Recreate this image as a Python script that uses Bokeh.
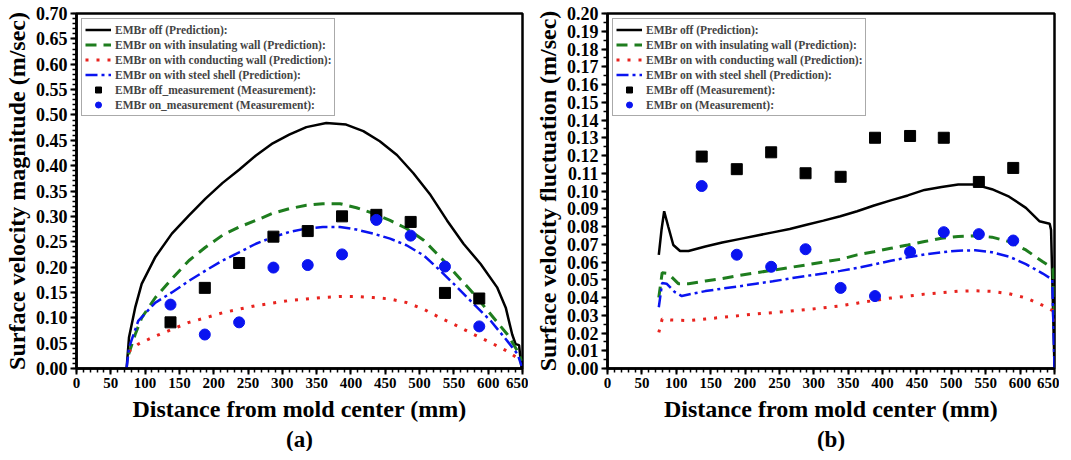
from bokeh.plotting import figure
from bokeh.layouts import row
from bokeh.models import FixedTicker, PrintfTickFormatter, Legend, LegendItem, Title, Range1d
from bokeh.embed import file_html
from bokeh.resources import INLINE

# ---------------- Panel (a): surface velocity magnitude ----------------
a_off_x = [73, 76.5, 85.5, 95, 115, 139, 164, 188, 213, 237, 261.5, 286, 310, 335, 364, 393,
           418, 442, 467, 491, 516, 540, 564, 589, 613, 625.6, 635, 640, 645, 648.6]
a_off_y = [0.0, 0.061, 0.12, 0.167, 0.22, 0.266, 0.302, 0.335, 0.366, 0.392, 0.42, 0.444, 0.461,
           0.476, 0.484, 0.481, 0.468, 0.448, 0.421, 0.385, 0.342, 0.292, 0.246, 0.206, 0.160,
           0.12, 0.067, 0.048, 0.046, 0.0]

a_ins_x = [76, 85.5, 95, 115, 139, 164, 188, 213, 237, 261.5, 286, 310, 335, 359, 384, 408,
           432.5, 457, 481, 506, 530, 555, 579, 603.6, 628, 643, 648.6]
a_ins_y = [0.028, 0.067, 0.10, 0.14, 0.177, 0.213, 0.239, 0.263, 0.279, 0.292, 0.306, 0.315,
           0.322, 0.325, 0.325, 0.317, 0.306, 0.292, 0.276, 0.253, 0.22, 0.183, 0.147, 0.107,
           0.067, 0.034, 0.015]

a_con_x = [76, 90, 115, 139, 164, 188, 213, 237, 261.5, 286, 310, 335, 359, 384, 408, 432.5,
           457, 481, 506, 530, 555, 579, 603.6, 628, 643]
a_con_y = [0.033, 0.048, 0.064, 0.077, 0.091, 0.10, 0.11, 0.117, 0.124, 0.129, 0.134, 0.137,
           0.14, 0.142, 0.142, 0.14, 0.137, 0.13, 0.117, 0.10, 0.084, 0.067, 0.051, 0.034, 0.02]

a_stl_x = [73, 76.5, 90, 115, 139, 164, 188, 213, 237, 261.5, 286, 310, 335, 359, 384, 408,
           432.5, 457, 481, 506, 530, 555, 579, 603.6, 628, 643, 648.6]
a_stl_y = [0.0, 0.041, 0.094, 0.13, 0.15, 0.173, 0.193, 0.213, 0.229, 0.246, 0.259, 0.269,
           0.276, 0.279, 0.279, 0.274, 0.266, 0.256, 0.243, 0.223, 0.193, 0.16, 0.127, 0.094,
           0.054, 0.028, 0.005]

meas_x = [137, 187, 237, 287, 337, 387, 437, 487, 537, 587]
a_meas_off = [0.091, 0.159, 0.208, 0.26, 0.271, 0.30, 0.303, 0.289, 0.149, 0.138]
a_meas_on = [0.126, 0.067, 0.091, 0.199, 0.204, 0.225, 0.293, 0.262, 0.201, 0.083]

# ---------------- Panel (b): surface velocity fluctuation ----------------
b_off_x = [74.6, 78.5, 82.4, 88.3, 95.7, 105.5, 117.8, 142.3, 166.8, 191.4, 215.9, 240.4, 265,
           289.5, 314, 338.6, 363, 387.6, 412, 436.7, 461, 485.8, 510, 534.8, 559, 584, 608.4,
           628, 643, 645, 650]
b_off_y = [0.064, 0.078, 0.0886, 0.080, 0.0696, 0.0662, 0.0662, 0.0687, 0.071, 0.0729, 0.0748,
           0.0767, 0.0786, 0.081, 0.0833, 0.0858, 0.0886, 0.0918, 0.0947, 0.0975, 0.1006,
           0.1023, 0.1036, 0.1036, 0.101, 0.0968, 0.0905, 0.083, 0.0816, 0.078, 0.0]

b_ins_x = [74.6, 79.5, 88.3, 103, 117.8, 142.3, 166.8, 191.4, 215.9, 240.4, 265, 289.5, 314,
           338.6, 363, 387.6, 412, 436.7, 461, 485.8, 510, 534.8, 559, 584, 608.4, 633, 647.7, 650]
b_ins_y = [0.040, 0.0539, 0.0535, 0.0478, 0.0478, 0.0493, 0.0507, 0.0524, 0.0539, 0.0554,
           0.0569, 0.0584, 0.06, 0.0615, 0.064, 0.0658, 0.0677, 0.0696, 0.0715, 0.0734, 0.0744,
           0.0748, 0.074, 0.0715, 0.0668, 0.0601, 0.0564, 0.027]

b_con_x = [74.6, 79.5, 93, 117.8, 142.3, 166.8, 191.4, 215.9, 240.4, 265, 289.5, 314, 338.6,
           363, 387.6, 412, 436.7, 461, 485.8, 510, 534.8, 559, 584, 608.4, 633, 647.7, 650]
b_con_y = [0.0203, 0.0279, 0.0273, 0.027, 0.0279, 0.0288, 0.0298, 0.0307, 0.0315, 0.0323,
           0.0332, 0.0342, 0.0353, 0.0368, 0.0383, 0.0397, 0.0408, 0.0419, 0.0427, 0.0435,
           0.0438, 0.0435, 0.0421, 0.0398, 0.0355, 0.0326, 0.025]

b_stl_x = [74.6, 79.5, 85.9, 98, 108, 117.8, 142.3, 166.8, 191.4, 215.9, 240.4, 265, 289.5, 314,
           338.6, 363, 387.6, 412, 436.7, 461, 485.8, 510, 534.8, 559, 584, 608.4, 633, 646.7, 650]
b_stl_y = [0.0345, 0.0482, 0.0478, 0.043, 0.0408, 0.0417, 0.0436, 0.045, 0.0463, 0.0478, 0.0491,
           0.0507, 0.0522, 0.0535, 0.055, 0.0567, 0.0586, 0.0607, 0.0626, 0.0643, 0.0655,
           0.0664, 0.0666, 0.0655, 0.063, 0.0588, 0.0535, 0.0501, 0.0]

b_meas_x = [137, 188, 238, 288, 339, 389, 440, 489, 540, 590]
b_meas_off = [0.1194, 0.1123, 0.1218, 0.110, 0.108, 0.130, 0.131, 0.130, 0.1051, 0.113]
b_meas_on = [0.1028, 0.0641, 0.0573, 0.0672, 0.0454, 0.0408, 0.0657, 0.0768, 0.0757, 0.0721]

x_major = list(range(0, 651, 50))
x_minor = list(range(0, 651, 10))
a_y_major = [round(i * 0.05, 2) for i in range(15)]
a_y_minor = [round(i * 0.01, 2) for i in range(71)]
b_y_major = [round(i * 0.01, 2) for i in range(21)]
b_y_minor = [round(i * 0.005, 3) for i in range(41)]

a_labels = ["EMBr off (Prediction):",
            "EMBr on with insulating wall (Prediction):",
            "EMBr on with conducting wall (Prediction):",
            "EMBr on with steel shell (Prediction):",
            "EMBr off_measurement (Measurement):",
            "EMBr on_measurement (Measurement):"]
b_labels = ["EMBr off (Prediction):",
            "EMBr on with insulating wall (Prediction):",
            "EMBr on with conducting wall (Prediction):",
            "EMBr on with steel shell (Prediction):",
            "EMBr off (Measurement):",
            "EMBr on (Measurement):"]

FONT = "Liberation Serif"
GREEN = "#1e7d1e"
RED = "#e8231e"
BLUE = "#0a14f0"


def make_panel(series, mx, moff, mon, ymax, ymaj, ymin, ylabel, labels, letter,
               fw, bl, br):
    p = figure(frame_width=fw, frame_height=355, output_backend="svg", toolbar_location=None,
               x_range=Range1d(0, 650), y_range=Range1d(0, ymax),
               min_border_left=bl, min_border_right=br, min_border_top=13, min_border_bottom=4)
    p.grid.visible = False
    p.outline_line_color = "black"
    p.outline_line_width = 2.5
    p.background_fill_color = "white"
    p.border_fill_color = "white"

    (ox, oy), (ix, iy), (cx, cy), (sx, sy) = series
    r_off = p.line(ox, oy, line_color="black", line_width=2.5)
    r_ins = p.line(ix, iy, line_color=GREEN, line_width=3, line_dash="11 7")
    r_con = p.line(cx, cy, line_color=RED, line_width=3, line_dash="3 8")
    r_stl = p.line(sx, sy, line_color=BLUE, line_width=2.5, line_dash="12 4 3 4")
    r_mo = p.scatter(mx, moff, marker="square", size=11, fill_color="black", line_color="black")
    r_mn = p.scatter(mx, mon, marker="circle", size=11, fill_color=BLUE, line_color=BLUE)

    legend = Legend(items=[LegendItem(label=l, renderers=[r]) for l, r in
                           zip(labels, [r_off, r_ins, r_con, r_stl, r_mo, r_mn])],
                    location="top_left", margin=5, padding=3, spacing=0,
                    label_text_font=FONT, label_text_font_style="bold",
                    label_text_font_size="11.5px", label_height=15, glyph_height=15,
                    glyph_width=26, label_standoff=4,
                    border_line_color="#555555", border_line_width=1.5,
                    background_fill_alpha=1.0)
    p.add_layout(legend)

    p.xaxis.ticker = FixedTicker(ticks=x_major, minor_ticks=x_minor)
    p.yaxis.ticker = FixedTicker(ticks=ymaj, minor_ticks=ymin)
    p.yaxis.formatter = PrintfTickFormatter(format="%.2f")
    for ax in (p.xaxis, p.yaxis):
        ax.axis_line_width = 2.5
        ax.axis_line_color = "black"
        ax.major_tick_line_width = 2
        ax.minor_tick_line_width = 1.5
        ax.major_tick_out = 6
        ax.major_tick_in = 0
        ax.minor_tick_out = 4
        ax.minor_tick_in = 0
        ax.major_label_text_font = FONT
        ax.major_label_text_font_style = "bold"
        ax.major_label_text_color = "black"
        ax.axis_label_text_font = FONT
        ax.axis_label_text_font_style = "bold"
        ax.axis_label_text_font_size = "24px"
        ax.axis_label_text_color = "black"
    p.xaxis.major_label_text_font_size = "15px"
    p.yaxis.major_label_text_font_size = "18px"
    p.xaxis.major_label_standoff = 3
    p.yaxis.major_label_standoff = 3
    p.xaxis.axis_label = "Distance from mold center (mm)"
    p.yaxis.axis_label = ylabel
    p.xaxis.axis_label_standoff = 5
    p.yaxis.axis_label_standoff = 3

    p.add_layout(Title(text=letter, align="center", text_font=FONT, text_font_style="bold",
                       text_font_size="23px", text_color="black", standoff=0), "below")
    return p


pa = make_panel([(a_off_x, a_off_y), (a_ins_x, a_ins_y), (a_con_x, a_con_y), (a_stl_x, a_stl_y)],
                meas_x, a_meas_off, a_meas_on, 0.70, a_y_major, a_y_minor,
                "Surface velocity magnitude (m/sec)", a_labels, "(a)", 446, 74, 6)
pb = make_panel([(b_off_x, b_off_y), (b_ins_x, b_ins_y), (b_con_x, b_con_y), (b_stl_x, b_stl_y)],
                b_meas_x, b_meas_off, b_meas_on, 0.20, b_y_major, b_y_minor,
                "Surface velocity fluctuation (m/sec)", b_labels, "(b)", 447, 79, 5)

layout = row(pa, pb, spacing=0)
open("out.html", "w").write(file_html(layout, INLINE))
